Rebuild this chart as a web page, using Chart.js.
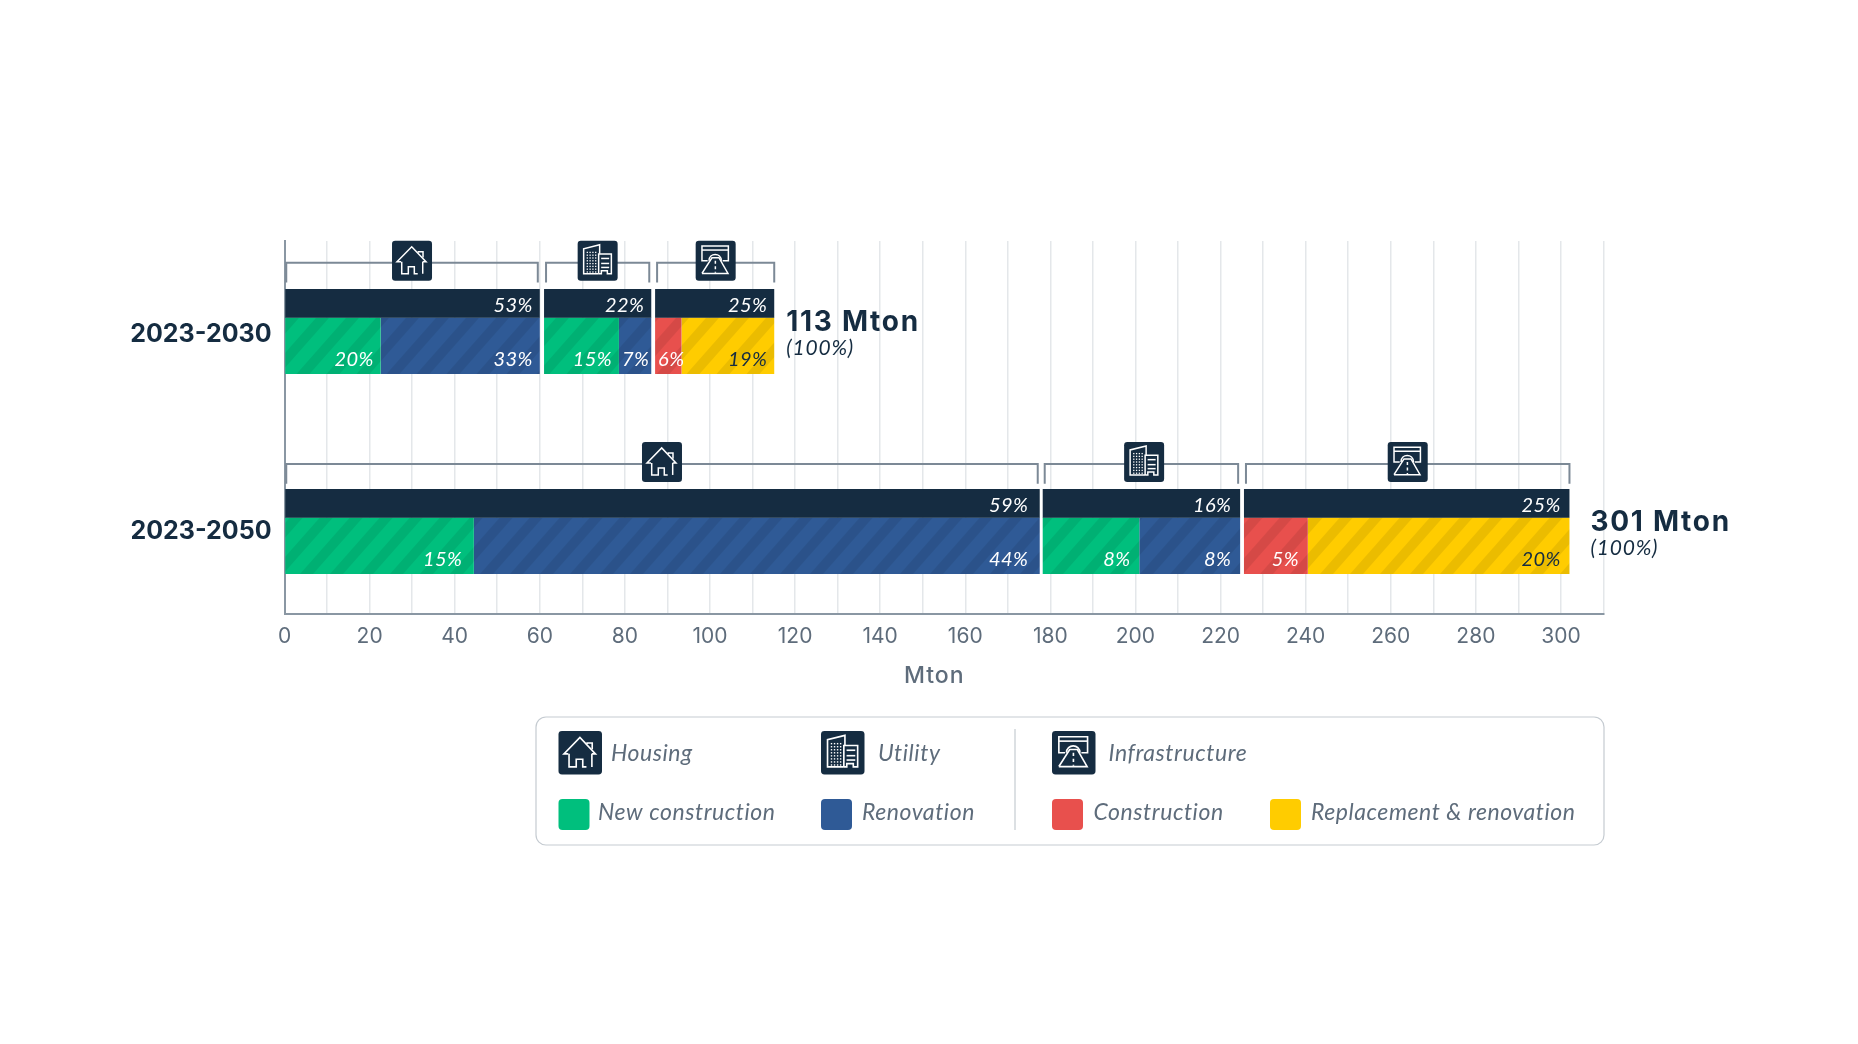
<!DOCTYPE html>
<html>
<head>
<meta charset="utf-8">
<title>Mton by period</title>
<script src="https://cdn.jsdelivr.net/npm/chart.js@4/dist/chart.umd.js"></script>
<style>
    html, body { margin: 0; background: #fff; }
    canvas { display: block; }
</style>
</head>
<body>
<canvas id="mtonChart" width="1858" height="1044"></canvas>
<script>
// DATA
const periods = ['2023-2030', '2023-2050'];
const totals = ['113 Mton', '301 Mton'];
const housingTotal = [60, 177.5];
const utilityTotal = [25.2, 46.4];
const infraTotal = [28, 76.5];
const housingNew = [22.6, 44.5];
const housingReno = [37.4, 133];
const utilityNew = [17.6, 22.7];
const utilityReno = [7.6, 23.7];
const infraBuild = [6.2, 15];
const infraReplace = [21.8, 61.5];
const gapFirst = [1, 0.7];
const gapSecond = [0.9, 0.9];
const housingTotalPct = ['53%', '59%'];
const utilityTotalPct = ['22%', '16%'];
const infraTotalPct = ['25%', '25%'];
const housingNewPct = ['20%', '15%'];
const housingRenoPct = ['33%', '44%'];
const utilityNewPct = ['15%', '8%'];
const utilityRenoPct = ['7%', '8%'];
const infraBuildPct = ['6%', '5%'];
const infraReplacePct = ['19%', '20%'];

// COLOURS AND FONTS
const NAVY = '#152c41', GREEN = '#00bf7d', BLUE = '#2f5a96', RED = '#e8504d', YELLOW = '#ffcc00';
const GREY_TEXT = '#5e6c7b', AXIS = '#8a97a3', BRACKET = '#7c8996';
const BOLD = 'Inter, sans-serif';
const ITALIC = 'Lato, sans-serif';

// rows of each period on the y scale (1 unit = distance between the periods)
const totalShift = -0.141, detailShift = 0.0708;
const labelRows = [0.012, 1];
const totalGapAfterBar = [12, 21];
// space between a percent label and the end of its bar, per period
const housingPad = [7, 11.5], otherPad = [7, 8.8];

function hatch(color) {
    const w = 30, h = 34;
    const tile = document.createElement('canvas');
    tile.width = w; tile.height = h;
    const c = tile.getContext('2d');
    c.fillStyle = color;
    c.fillRect(0, 0, w, h);
    c.fillStyle = 'rgba(0,0,0,0.08)';
    for (let k = -2; k < 3; k++) {
        const x = 26.5 + k * w;
        c.beginPath();
        c.moveTo(x, 0); c.lineTo(x + 13, 0);
        c.lineTo(x + 13 - w, h); c.lineTo(x - w, h);
        c.fill();
    }
    return c.createPattern(tile, 'repeat');
}

function series(values, shift, color, thickness, pct, pad, pctColor) {
    return {
        data: values.map((v, i) => ({ x: v, y: i + shift })),
        backgroundColor: color,
        maxBarThickness: thickness,
        barPercentage: 2,
        grouped: false,
        pct: pct,
        pad: pad,
        pctColor: pctColor || '#fff'
    };
}
const totalBar = (values, pct, pad) => series(values, totalShift, NAVY, 28.7, pct, pad);
const detailBar = (values, color, pct, pad, pctColor) => series(values, detailShift, hatch(color), 56.6, pct, pad, pctColor);
const gapBar = (values, shift) => series(values, shift, 'rgba(0,0,0,0)', 1);

// ICONS (drawn in a 40x40 box)
function line(c, pts) {
    c.beginPath();
    pts.forEach((p, i) => i ? c.lineTo(p[0], p[1]) : c.moveTo(p[0], p[1]));
    c.stroke();
}
function houseIcon(c) {
    line(c, [[9, 21], [5, 21], [19.7, 6], [34, 21], [30.7, 21]]);
    line(c, [[26.3, 12], [26.3, 11], [31, 11], [31, 16.7]]);
    line(c, [[9.7, 21], [9.7, 33], [16.3, 33], [16.3, 26], [22.3, 26], [22.3, 33], [25.7, 33]]);
    line(c, [[30.7, 21], [30.7, 33]]);
}
function buildingIcon(c) {
    line(c, [[21, 33], [6, 33], [6, 8], [22, 4], [22, 13]]);
    line(c, [[21, 33], [21, 13.3], [33.7, 13.3], [33.7, 33], [29.7, 33], [29.7, 30], [23.7, 30], [23.7, 33], [21, 33]]);
    [17.7, 22.7, 26.7].forEach(y => line(c, [[23.5, y], [31.5, y]]));
    c.fillStyle = '#fff';
    for (let x = 9; x < 19; x += 2.8) {
        for (let y = 11; y < 31; y += 2.8) c.fillRect(x, y, 1.3, 1.3);
    }
}
function roadIcon(c) {
    line(c, [[12, 20], [6.3, 20], [6.3, 5.3], [32.7, 5.3], [32.7, 20], [27, 20]]);
    line(c, [[6.3, 9.3], [32.7, 9.3]]);
    c.beginPath();
    c.moveTo(13.3, 20);
    c.bezierCurveTo(13.3, 11.5, 25.7, 11.5, 25.7, 20);
    c.stroke();
    line(c, [[6.3, 32.7], [32.3, 32.7], [23.3, 17], [16.3, 17], [6.3, 32.7]]);
    c.setLineDash([3, 2.5]);
    line(c, [[19.7, 20], [19.7, 32]]);
    c.setLineDash([]);
}
function drawIcon(c, icon, x, y, size) {
    c.save();
    c.fillStyle = NAVY;
    c.beginPath();
    c.roundRect(x, y, size, size, size * 0.08);
    c.fill();
    c.translate(x, y);
    c.scale(size / 40, size / 40);
    c.strokeStyle = '#fff';
    c.lineWidth = 1.5;
    icon(c);
    c.restore();
}

function text(c, str, x, y, font, color, align, spacing) {
    c.font = font;
    c.letterSpacing = (spacing || 0) + 'px';
    c.fillStyle = color;
    c.textAlign = align || 'left';
    c.textBaseline = 'alphabetic';
    c.fillText(str, x, y);
    c.letterSpacing = '0px';
}

// BRACKETS, ICONS, PERCENT AND TOTAL LABELS
const annotations = {
    id: 'annotations',
    afterDatasetsDraw(chart) {
        const c = chart.ctx;
        c.save();

        chart.data.datasets.forEach((ds, d) => {
            if (!ds.pct) return;
            chart.getDatasetMeta(d).data.forEach((bar, i) => {
                const font = 'italic 20px ' + ITALIC;
                c.font = font;
                c.letterSpacing = '0.4px';
                const w = c.measureText(ds.pct[i]).width;
                c.letterSpacing = '0px';
                const right = Math.max(bar.x - ds.pad[i], bar.base + 3 + w);
                const bottom = bar.y + bar.height / 2;
                const lift = bar.height > 40 ? 8 : 6;
                text(c, ds.pct[i], right, bottom - lift, font, ds.pctColor, 'right', 0.4);
            });
        });

        const groups = [[0, houseIcon, 0], [2, buildingIcon, 2.7], [4, roadIcon, 0]];
        groups.forEach(([d, icon, nudge], g) => {
            chart.getDatasetMeta(d).data.forEach((bar, i) => {
                const top = bar.y - bar.height / 2 + i * 1.2;
                const left = bar.base + (g === 0 ? 1 : 2);
                const right = bar.x - (g === 2 ? 0 : 2);
                c.strokeStyle = BRACKET;
                c.lineWidth = 2;
                line(c, [[left, top - 6.5], [left, top - 26.3], [right, top - 26.3], [right, top - 6.5]]);
                drawIcon(c, icon, (left + right) / 2 - 20 + (i ? nudge : 0), top - 48.3, 40);
            });
        });

        const last = chart.getDatasetMeta(4).data;
        last.forEach((bar, i) => {
            const x = bar.x + totalGapAfterBar[i];
            const top = bar.y - bar.height / 2;
            text(c, totals[i], x, top + 42, '700 28px ' + BOLD, NAVY, 'left', 1.7);
            text(c, '(100%)', x, top + 66, 'italic 21px ' + ITALIC, NAVY, 'left', 0.8);
        });

        const xs = chart.scales.x;
        text(c, 'Mton', xs.getPixelForValue(152.7), 683, '500 23px ' + BOLD, GREY_TEXT, 'center', 1);

        c.restore();
    },
    afterDraw(chart) {
        const c = chart.ctx;
        c.save();
        c.strokeStyle = '#c5cbd1';
        c.lineWidth = 1.2;
        c.beginPath();
        c.roundRect(536, 717, 1068, 128, 10);
        c.stroke();
        line(c, [[1015, 729], [1015, 830]]);

        const font = 'italic 23px ' + ITALIC;
        drawIcon(c, houseIcon, 558.5, 731, 43.5);
        text(c, 'Housing', 611, 761, font, GREY_TEXT, 'left', 0.55);
        drawIcon(c, buildingIcon, 821, 731, 43.5);
        text(c, 'Utility', 878, 761, font, GREY_TEXT, 'left', 0.55);
        drawIcon(c, roadIcon, 1052, 731, 43.5);
        text(c, 'Infrastructure', 1108.5, 761, font, GREY_TEXT, 'left', 0.55);

        const swatches = [
            [558.5, GREEN, 'New construction', 598],
            [821, BLUE, 'Renovation', 862],
            [1052, RED, 'Construction', 1093.5],
            [1270, YELLOW, 'Replacement & renovation', 1311]
        ];
        swatches.forEach(([x, color, label, tx]) => {
            c.fillStyle = color;
            c.beginPath();
            c.roundRect(x, 799, 31, 31, 4);
            c.fill();
            text(c, label, tx, 820, font, GREY_TEXT, 'left', 0.55);
        });
        c.restore();
    }
};

// CHART
new Chart(document.getElementById('mtonChart'), {
    type: 'bar',
    data: {
        datasets: [
            totalBar(housingTotal, housingTotalPct, housingPad),
            gapBar(gapFirst, totalShift),
            totalBar(utilityTotal, utilityTotalPct, otherPad),
            gapBar(gapSecond, totalShift),
            totalBar(infraTotal, infraTotalPct, otherPad),
            detailBar(housingNew, GREEN, housingNewPct, housingPad),
            detailBar(housingReno, BLUE, housingRenoPct, housingPad),
            gapBar(gapFirst, detailShift),
            detailBar(utilityNew, GREEN, utilityNewPct, otherPad),
            detailBar(utilityReno, BLUE, utilityRenoPct, otherPad),
            gapBar(gapSecond, detailShift),
            detailBar(infraBuild, RED, infraBuildPct, otherPad),
            detailBar(infraReplace, YELLOW, infraReplacePct, otherPad, NAVY)
        ]
    },
    plugins: [annotations],
    options: {
        indexAxis: 'y',
        responsive: false,
        animation: false,
        layout: { padding: { top: 241, right: 254.5, left: 0, bottom: 0 } },
        plugins: { legend: { display: false }, tooltip: { enabled: false } },
        scales: {
            x: {
                type: 'linear',
                stacked: true,
                min: 0,
                max: 310,
                afterFit: s => { s.height = 430; },
                border: { color: AXIS, width: 2 },
                grid: { color: '#e4e7ea', lineWidth: 1.5, drawTicks: false },
                ticks: {
                    stepSize: 10,
                    autoSkip: false,
                    maxRotation: 0,
                    padding: 10,
                    color: GREY_TEXT,
                    font: { family: 'Inter', size: 21 },
                    callback: v => v % 20 ? '' : v
                }
            },
            y: {
                type: 'linear',
                reverse: true,
                offset: false,
                min: -0.453,
                max: 1.412,
                afterFit: s => { s.width = 284.5; },
                afterBuildTicks: s => { s.ticks = labelRows.map(v => ({ value: v })); },
                border: { color: AXIS, width: 2 },
                grid: { display: false, drawTicks: false },
                ticks: {
                    autoSkip: false,
                    padding: 13,
                    color: NAVY,
                    font: { family: 'Inter', size: 25, weight: '700' },
                    callback: (v, i) => periods[i]
                }
            }
        }
    }
});
</script>
</body>
</html>
